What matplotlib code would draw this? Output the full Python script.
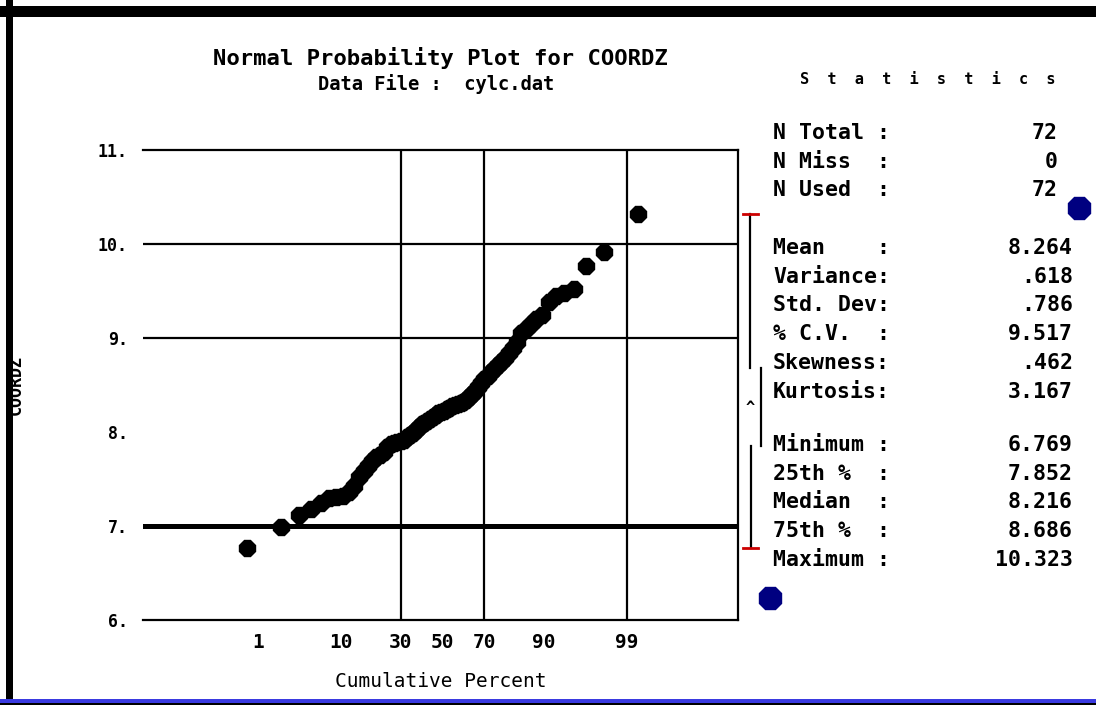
import matplotlib
matplotlib.use('Agg')
import matplotlib.pyplot as plt
from matplotlib.transforms import blended_transform_factory
from matplotlib.patches import Rectangle
from statistics import NormalDist

# sorted COORDZ values (72 used)
coordz = [6.769, 6.99, 7.12, 7.18, 7.25, 7.30, 7.31, 7.32, 7.36, 7.43,
          7.52, 7.59, 7.64, 7.69, 7.73, 7.76, 7.79, 7.845, 7.875, 7.88,
          7.89, 7.90, 7.92, 7.95, 7.97, 7.99, 8.02, 8.05, 8.08, 8.10,
          8.12, 8.14, 8.16, 8.18, 8.20, 8.21, 8.222, 8.24, 8.26, 8.28,
          8.29, 8.30, 8.31, 8.32, 8.34, 8.37, 8.40, 8.44, 8.48, 8.52,
          8.56, 8.60, 8.64, 8.67, 8.71, 8.75, 8.79, 8.84, 8.89, 8.96,
          9.05, 9.10, 9.15, 9.20, 9.24, 9.38, 9.45, 9.48, 9.52, 9.77,
          9.91, 10.323]

pct_ticks = [1, 10, 30, 50, 70, 90, 99]
pct_labels = ['1', '10', '30', '50', '70', '90', '99']
pct_grid = [30, 70, 99]
y_ticks = [6, 7, 8, 9, 10, 11]
y_labels = ['6.', '7.', '8.', '9.', '10.', '11.']
y_grid = [9, 10]
y_grid_heavy = [7]

count_names = ['N Total :', 'N Miss  :', 'N Used  :']
count_values = ['72', '0', '72']
moment_names = ['Mean    :', 'Variance:', 'Std. Dev:', '% C.V.  :', 'Skewness:', 'Kurtosis:']
moment_values = ['8.264', '.618', '.786', '9.517', '.462', '3.167']
order_names = ['Minimum :', '25th %  :', 'Median  :', '75th %  :', 'Maximum :']
order_values = ['6.769', '7.852', '8.216', '8.686', '10.323']

v_min, v_q1, v_q3, v_max, v_mean = 6.769, 7.852, 8.686, 10.323, 8.264

W, H = 1096, 705
mono = 'DejaVu Sans Mono'
plt.rcParams.update({'font.family': mono, 'font.weight': 'bold',
                     'axes.labelweight': 'bold'})

fig = plt.figure(figsize=(W / 100, H / 100), dpi=100)
ax = fig.add_axes([143 / W, 1 - 620 / H, (738 - 143) / W, (620 - 150) / H])

nd = NormalDist()
n = len(coordz)
zs = [nd.inv_cdf((i - 0.5) / n) for i in range(1, n + 1)]

ax.set_xlim(-3.777, 3.726)
ax.set_ylim(6, 11)
ax.spines['left'].set_visible(False)
for s in ['top', 'right', 'bottom']:
    ax.spines[s].set_linewidth(1.6)

for g in y_grid:
    ax.axhline(g, color='black', lw=1.6, zorder=1)
for g in y_grid_heavy:
    ax.axhline(g, color='black', lw=3.6, zorder=1)
for p in pct_grid:
    ax.axvline(nd.inv_cdf(p / 100), color='black', lw=1.6, zorder=1)

ax.plot(zs, coordz, linestyle='none', marker='8', ms=12.5, color='black',
        markeredgecolor='black', zorder=3)

ax.set_xticks([nd.inv_cdf(p / 100) for p in pct_ticks], pct_labels)
ax.set_yticks(y_ticks, y_labels)
ax.tick_params(axis='x', length=0, pad=9, labelsize=14)
ax.tick_params(axis='y', length=0, pad=11, labelsize=12)
ax.set_xlabel('Cumulative Percent', fontsize=14, labelpad=15, fontweight='normal')
ax.set_ylabel('COORDZ', fontsize=12)
ax.yaxis.set_label_coords(-118 / 595, 0.5)

fig.text(440 / W, 1 - 58 / H, 'Normal Probability Plot for COORDZ',
         ha='center', va='center', fontsize=16)
fig.text(436 / W, 1 - 84 / H, 'Data File :  cylc.dat',
         ha='center', va='center', fontsize=13.5)
fig.text(928 / W, 1 - 80 / H, '  '.join('Statistics'),
         ha='center', va='center', fontsize=11)

# statistics block
step = 28.7
for names, vals, y0, xr in [(count_names, count_values, 133, 1058),
                             (moment_names, moment_values, 248, 1073),
                             (order_names, order_values, 445, 1073)]:
    for k, (nm, vl) in enumerate(zip(names, vals)):
        y = 1 - (y0 + k * step) / H
        fig.text(773 / W, y, nm, ha='left', va='center', fontsize=15.5)
        fig.text(xr / W, y, vl, ha='right', va='center', fontsize=15.5)

# box plot summary beside the stats
tr = blended_transform_factory(fig.transFigure, ax.transData)
ax.plot([750 / W, 750 / W], [v_max, v_q3], color='black', lw=1.6, transform=tr, clip_on=False)
ax.plot([761 / W, 761 / W], [v_q3, v_q1], color='black', lw=1.6, transform=tr, clip_on=False)
ax.plot([751 / W, 751 / W], [v_q1, v_min], color='black', lw=1.6, transform=tr, clip_on=False)
for v in [v_max, v_min]:
    ax.plot([743 / W, 758 / W], [v, v], color='#cc0000', lw=2, transform=tr, clip_on=False)
ax.text(750 / W, v_mean, '^', transform=tr, ha='center', va='center', fontsize=11)

# blue flower markers
for fx, fy in [(1079, 208), (770, 598)]:
    fig.add_artist(plt.Line2D([fx / W], [1 - fy / H], marker='8', ms=17,
                              color='#000080', linestyle='none'))

# screen frame
fig.add_artist(Rectangle((6 / W, 0), 7 / W, 1, transform=fig.transFigure,
                         color='black', lw=0))
fig.add_artist(Rectangle((0, 1 - 17 / H), 1, 11 / H, transform=fig.transFigure,
                         color='black', lw=0))
fig.add_artist(Rectangle((0, 2 / H), 1, 4 / H, transform=fig.transFigure,
                         color='#3a3ae0', lw=0))
fig.add_artist(Rectangle((0, 0), 1, 2 / H, transform=fig.transFigure,
                         color='black', lw=0))

plt.savefig('out.png', dpi=100)
